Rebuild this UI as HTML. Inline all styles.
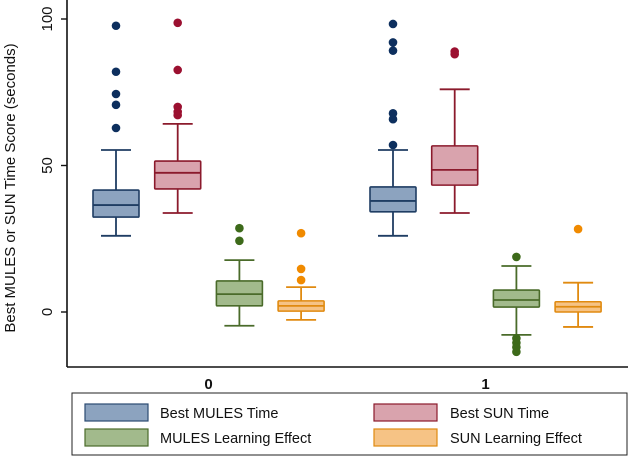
<!DOCTYPE html>
<html><head><meta charset="utf-8">
<style>
html,body{margin:0;padding:0;background:#fff;}
svg{display:block;font-family:"Liberation Sans",Arial,sans-serif;}
</style></head>
<body>
<svg id="chart" width="632" height="459" viewBox="0 0 632 459">
<line x1="67" y1="0" x2="67" y2="367" stroke="#111" stroke-width="1.6"/>
<line x1="67" y1="367" x2="628" y2="367" stroke="#111" stroke-width="1.6"/>
<text x="15" y="188" transform="rotate(-90 15 188)" text-anchor="middle" font-size="15" fill="#111">Best MULES or SUN Time Score (seconds)</text>
<g id="marks"></g>
<rect x="72" y="393" width="555" height="62" fill="#fff" stroke="#222" stroke-width="1"/>
<g><rect x="85" y="404" width="63" height="17" fill="#8ca3bf" stroke="#2b4b72" stroke-width="1.2"/><text x="160" y="418" font-size="14.5" fill="#111">Best MULES Time</text></g>
<g><rect x="374" y="404" width="63" height="17" fill="#d9a3ad" stroke="#8b1a2c" stroke-width="1.2"/><text x="450" y="418" font-size="14.5" fill="#111">Best SUN Time</text></g>
<g><rect x="85" y="429" width="63" height="17" fill="#a2ba8c" stroke="#4a6b2a" stroke-width="1.2"/><text x="160" y="443" font-size="14.5" fill="#111">MULES Learning Effect</text></g>
<g><rect x="374" y="429" width="63" height="17" fill="#f6c385" stroke="#e08a10" stroke-width="1.2"/><text x="450" y="443" font-size="14.5" fill="#111">SUN Learning Effect</text></g>
</svg>
<script>
const yTicks = [0, 50, 100];
const groups = ["0", "1"];
const seriesNames = ["Best MULES Time", "Best SUN Time", "MULES Learning Effect", "SUN Learning Effect"];
// [lowWhisker, q1, median, q3, highWhisker] per group
const mulesTime = [[26, 32.4, 36.5, 41.6, 55.3], [26, 34.2, 37.9, 42.7, 55.3]];
const sunTime = [[33.8, 42, 47.5, 51.5, 64.2], [33.8, 43.3, 48.5, 56.7, 76]];
const mulesLearn = [[-4.7, 2.1, 6.1, 10.6, 17.7], [-7.8, 1.7, 4.1, 7.5, 15.7]];
const sunLearn = [[-2.7, 0.3, 2.1, 3.8, 8.5], [-5.1, 0, 1.8, 3.5, 10]];
const mulesTimeOut = [[97.7, 82, 74.4, 70.7, 62.8], [98.3, 92, 89.2, 67.8, 65.8, 57]];
const sunTimeOut = [[98.7, 82.6, 70, 68.3, 67.2], [88.9, 88]];
const mulesLearnOut = [[28.6, 24.3], [18.8, -9, -10.5, -12, -13.6]];
const sunLearnOut = [[26.9, 14.7, 10.9], [28.3]];

const NS = "http://www.w3.org/2000/svg";
const svg = document.getElementById("chart");
const marks = document.getElementById("marks");
function yS(v){ return 312 - v * 2.93; }
const groupX = [116, 393];
const offset = 61.7;
function xS(g, s){ return groupX[g] + s * offset; }
function mk(tag, attrs, parent){ const e = document.createElementNS(NS, tag); for (const k in attrs) e.setAttribute(k, attrs[k]); (parent||marks).appendChild(e); return e; }

yTicks.forEach(t => {
  const l = mk("line", {x1: 61, x2: 67, y1: yS(t), y2: yS(t), stroke: "#111", "stroke-width": 1.4}, svg);
  
  
  const tx = mk("text", {x: 52, y: yS(t), transform: `rotate(-90 52 ${yS(t)})`, "text-anchor": "middle", "font-size": 15, fill: "#111"}, svg);
  tx.textContent = t;
  
  
});
groups.forEach((g, i) => {
  const cx = (xS(i,0) + xS(i,3)) / 2;
  const tx = mk("text", {x: cx, y: 389, "text-anchor": "middle", "font-size": 15, "font-weight": "bold", fill: "#111"}, svg);
  tx.textContent = g;
  
  
});

const series = [mulesTime, sunTime, mulesLearn, sunLearn];
const outs = [mulesTimeOut, sunTimeOut, mulesLearnOut, sunLearnOut];
const fills = ["#8ca3bf", "#d9a3ad", "#a2ba8c", "#f6c385"];
const strokes = ["#1f3d63", "#8b1a2c", "#4a6b2a", "#e08a10"];
const dots = ["#0d2f5e", "#9b1030", "#3d6a1a", "#f08a00"];
const names = ["mules-time", "sun-time", "mules-learning", "sun-learning"];
const bw = 46, cw = 30;
series.forEach((data, s) => {
  data.forEach((d, g) => {
    const cx = xS(g, s);
    const grp = mk("g", {});
    
    
    const st = {stroke: strokes[s], "stroke-width": 1.8};
    mk("line", Object.assign({x1: cx, x2: cx, y1: yS(d[0]), y2: yS(d[1])}, st), grp);
    mk("line", Object.assign({x1: cx, x2: cx, y1: yS(d[3]), y2: yS(d[4])}, st), grp);
    mk("line", Object.assign({x1: cx-cw/2, x2: cx+cw/2, y1: yS(d[0]), y2: yS(d[0])}, st), grp);
    mk("line", Object.assign({x1: cx-cw/2, x2: cx+cw/2, y1: yS(d[4]), y2: yS(d[4])}, st), grp);
    mk("rect", {x: cx-bw/2, y: yS(d[3]), width: bw, height: yS(d[1]) - yS(d[3]), fill: fills[s], stroke: strokes[s], "stroke-width": 1.6, rx: 1}, grp);
    mk("line", Object.assign({x1: cx-bw/2, x2: cx+bw/2, y1: yS(d[2]), y2: yS(d[2])}, st), grp);
    outs[s][g].forEach(v => {
      const c = mk("circle", {cx: cx, cy: yS(v), r: 4.3, fill: dots[s]}, grp);
      
      
    });
  });
});
</script>
</body></html>
